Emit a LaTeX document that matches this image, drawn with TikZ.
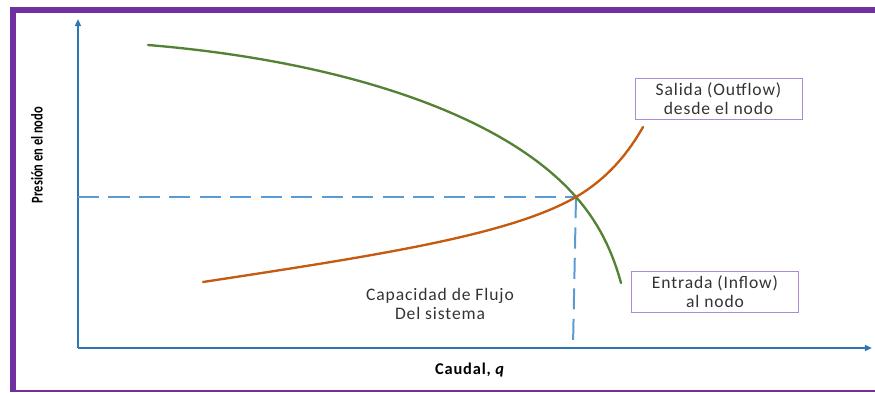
\documentclass[tikz,border=0pt]{standalone}
\usepackage{fontspec}
\setmainfont{Carlito}
\newfontfamily\widefont[LetterSpace=5]{Carlito}
\usetikzlibrary{positioning, arrows.meta}

\definecolor{framepurple}{HTML}{7030A0}
\definecolor{axisblue}{HTML}{2E75B6}
\definecolor{dashblue}{HTML}{5B9BD5}
\definecolor{curvegreen}{HTML}{548235}
\definecolor{curveorange}{HTML}{C55A11}
\definecolor{boxpurple}{HTML}{A98BD6}

\begin{document}
\begin{tikzpicture}[x=0.03cm, y=-0.03cm,
    axisline/.style={axisblue, line width=1.7pt, -{Triangle[length=6pt, width=5pt]}},
    guide/.style={dashblue, line width=1.7pt, dash pattern=on 18pt off 8pt},
    curve/.style={line width=2pt, line cap=round},
    labeltext/.style={align=center, text=black!80,
      font=\widefont\fontsize{15}{16}\selectfont},
    labelbox/.style={labeltext, draw=boxpurple, line width=0.7pt,
      minimum width=167*0.03cm, minimum height=41*0.03cm, inner sep=0pt}]
  \useasboundingbox (0,0) rectangle (875,392);

  % Frame (open on the right)
  \draw[framepurple, line width=5pt] (875,10) -- (13,10) -- (13,392);
  \draw[framepurple, line width=1.8pt] (10,391) -- (875,391);

  % Axes
  \coordinate (origin) at (78,348);
  \coordinate (ytop) at (78,19);
  \coordinate (xend) at (872,348);
  \draw[axisline] (origin) -- (ytop);
  \draw[axisline] (origin) -- (xend);

  % Operating point and guides
  \coordinate (op) at (576,197);
  \coordinate (opy) at (78,197);
  \coordinate (opx) at (573,346);
  \draw[guide] (opy) -- (op);
  \draw[guide] (op) -- (opx);

  % Inflow curve (green)
  \draw[curve, curvegreen] (148,45) .. controls (330,60) and (500,110) .. (op)
    .. controls (598,222) and (612,250) .. (621,283);

  % Outflow curve (orange)
  \draw[curve, curveorange] (203,282) .. controls (380,255) and (510,235) .. (op)
    .. controls (610,177) and (630,150) .. (643,127);

  % Labels
  \node[labelbox] (salida) at (718.5,98.5) {Salida (Outflow)\\desde el nodo};
  \node[labelbox] (entrada) at (715,291.5) {Entrada (Inflow)\\al nodo};
  \node[labeltext] (capacidad) at (440,304) {Capacidad de Flujo\\Del sistema};
  \node[font=\widefont\fontsize{14}{16}\selectfont\bfseries] (caudal) at (470,370) {Caudal, \textit{q}};
  \node[rotate=90, font=\fontsize{14}{16}\selectfont\bfseries] (presion) at (37,155)
    {\scalebox{0.76}[1]{Presión en el nodo}};
\end{tikzpicture}
\end{document}
